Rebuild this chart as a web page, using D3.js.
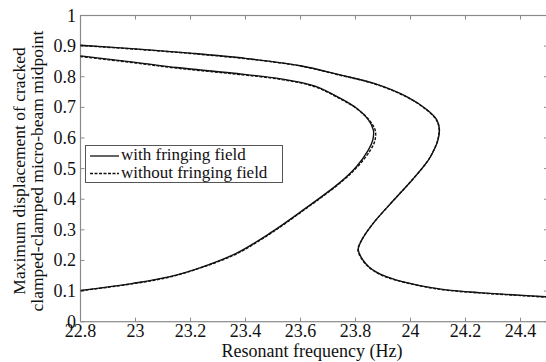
<!DOCTYPE html>
<html>
<head>
<meta charset="utf-8">
<script src="https://cdn.jsdelivr.net/npm/d3@7"></script>
<style>
  body { margin: 0; background: #fff; }
  text { font-family: "Liberation Serif", "Times New Roman", serif; fill: #111; }
</style>
</head>
<body>
<svg id="chart" width="546" height="362"></svg>
<script>
// Axis ticks
const xTicks = [22.8, 23, 23.2, 23.4, 23.6, 23.8, 24, 24.2, 24.4];
const yTicks = [0, 0.1, 0.2, 0.3, 0.4, 0.5, 0.6, 0.7, 0.8, 0.9, 1];

// With fringing field (solid) - outer S-shaped branch
const outerFreq = [22.80, 23.00, 23.20, 23.40, 23.60, 23.744, 23.865, 23.986, 24.06, 24.095, 24.105, 24.10, 24.085, 24.065, 24.01, 23.94, 23.865, 23.823, 23.81, 23.828, 23.85, 23.89, 23.95, 24.07, 24.13, 24.25, 24.37, 24.50];
const outerDisp = [0.903, 0.891, 0.877, 0.860, 0.836, 0.806, 0.779, 0.735, 0.692, 0.660, 0.630, 0.594, 0.560, 0.528, 0.467, 0.398, 0.322, 0.267, 0.235, 0.200, 0.178, 0.155, 0.136, 0.112, 0.104, 0.095, 0.088, 0.081];
// With fringing field (solid) - inner branch
const innerFreq = [22.80, 23.00, 23.15, 23.35, 23.53, 23.65, 23.744, 23.804, 23.847, 23.865, 23.863, 23.847, 23.804, 23.744, 23.61, 23.489, 23.368, 23.247, 23.125, 22.99, 22.80];
const innerDisp = [0.868, 0.847, 0.830, 0.812, 0.793, 0.770, 0.730, 0.697, 0.659, 0.626, 0.594, 0.561, 0.507, 0.455, 0.365, 0.289, 0.224, 0.180, 0.147, 0.125, 0.102];

// Without fringing field (dashed) - nearly the same curves
const outerFreqNo = [22.80, 23.00, 23.20, 23.40, 23.60, 23.744, 23.865, 23.986, 24.06, 24.094, 24.104, 24.099, 24.084, 24.064, 24.009, 23.939, 23.864, 23.822, 23.809, 23.827, 23.85, 23.89, 23.95, 24.07, 24.13, 24.25, 24.37, 24.50];
const outerDispNo = [0.902, 0.890, 0.876, 0.859, 0.835, 0.805, 0.778, 0.734, 0.691, 0.659, 0.629, 0.593, 0.559, 0.527, 0.466, 0.397, 0.321, 0.266, 0.234, 0.199, 0.177, 0.154, 0.135, 0.111, 0.103, 0.094, 0.087, 0.080];
const innerFreqNo = [22.80, 23.00, 23.15, 23.35, 23.53, 23.65, 23.744, 23.806, 23.851, 23.872, 23.870, 23.852, 23.806, 23.744, 23.61, 23.489, 23.368, 23.247, 23.125, 22.99, 22.80];
const innerDispNo = [0.866, 0.845, 0.828, 0.810, 0.791, 0.768, 0.728, 0.695, 0.657, 0.624, 0.590, 0.557, 0.505, 0.453, 0.363, 0.287, 0.222, 0.179, 0.146, 0.124, 0.101];

const svg = d3.select("#chart");
const margin = { top: 15.5, right: -2, bottom: 40.3, left: 80.5 };
const W = 546, H = 362;

const x = d3.scaleLinear().domain([22.8, 24.5]).range([margin.left, W - margin.right]);
const y = d3.scaleLinear().domain([0, 1]).range([H - margin.bottom, margin.top]);

const axisColor = "#8a8a8a";
const fs = "18px";

// ticks inward on all four sides
const g = svg.append("g");
xTicks.forEach(t => {
  g.append("line").attr("x1", x(t)).attr("x2", x(t)).attr("y1", y(0)).attr("y2", y(0) - 4).attr("stroke", axisColor);
  g.append("line").attr("x1", x(t)).attr("x2", x(t)).attr("y1", y(1)).attr("y2", y(1) + 4).attr("stroke", axisColor);
  g.append("text").attr("x", x(t)).attr("y", y(0) + 15).attr("text-anchor", "middle")
    .style("font-size", fs).text(t);
});
yTicks.forEach(t => {
  g.append("line").attr("x1", x(22.8)).attr("x2", x(22.8) + 4).attr("y1", y(t)).attr("y2", y(t)).attr("stroke", axisColor);
  g.append("line").attr("x1", x(24.5)).attr("x2", x(24.5) - 4).attr("y1", y(t)).attr("y2", y(t)).attr("stroke", axisColor);
  g.append("text").attr("x", x(22.8) - 4.5).attr("y", y(t) + 6).attr("text-anchor", "end")
    .style("font-size", fs).text(t);
});

// box
svg.append("rect")
  .attr("x", x(22.8)).attr("y", y(1))
  .attr("width", x(24.5) - x(22.8)).attr("height", y(0) - y(1))
  .attr("fill", "none").attr("stroke", axisColor).attr("stroke-width", 1.2);

const line = d3.line()
  .x(d => x(d[0])).y(d => y(d[1]))
  .curve(d3.curveCatmullRom.alpha(0.5));

const plot = svg.append("g");
function draw(fr, ds, dash) {
  plot.append("path")
    .datum(fr.map((f, i) => [f, ds[i]]))
    .attr("d", line)
    .attr("fill", "none")
    .attr("stroke", "#111")
    .attr("stroke-width", 1.4)
    .attr("stroke-dasharray", dash);
}
draw(outerFreqNo, outerDispNo, "3,1.5");
draw(innerFreqNo, innerDispNo, "3,1.5");
draw(outerFreq, outerDisp, null);
draw(innerFreq, innerDisp, null);

// legend
const leg = svg.append("g");
leg.append("rect").attr("x", 85.5).attr("y", 145.5).attr("width", 197).attr("height", 37)
  .attr("fill", "#fff").attr("stroke", "#555").attr("stroke-width", 1);
leg.append("line").attr("x1", 90).attr("x2", 119).attr("y1", 156).attr("y2", 156)
  .attr("stroke", "#111").attr("stroke-width", 1.3);
leg.append("line").attr("x1", 90).attr("x2", 119).attr("y1", 173.5).attr("y2", 173.5)
  .attr("stroke", "#111").attr("stroke-width", 1.3).attr("stroke-dasharray", "3,1.5");
leg.append("text").attr("x", 121).attr("y", 160).style("font-size", "17px").text("with fringing field");
leg.append("text").attr("x", 121).attr("y", 177.5).style("font-size", "17px").text("without fringing field");

// axis labels
svg.append("text").attr("x", 312).attr("y", 357).attr("text-anchor", "middle")
  .style("font-size", fs).text("Resonant frequency (Hz)");
const yl = svg.append("text").attr("transform", "translate(25,171) rotate(-90)")
  .attr("text-anchor", "middle").style("font-size", "17.5px");
yl.append("tspan").attr("x", 0).attr("dy", 0).text("Maximum displacement of cracked");
yl.append("tspan").attr("x", 0).attr("dy", 17.5).text("clamped-clamped micro-beam midpoint");
</script>
</body>
</html>
